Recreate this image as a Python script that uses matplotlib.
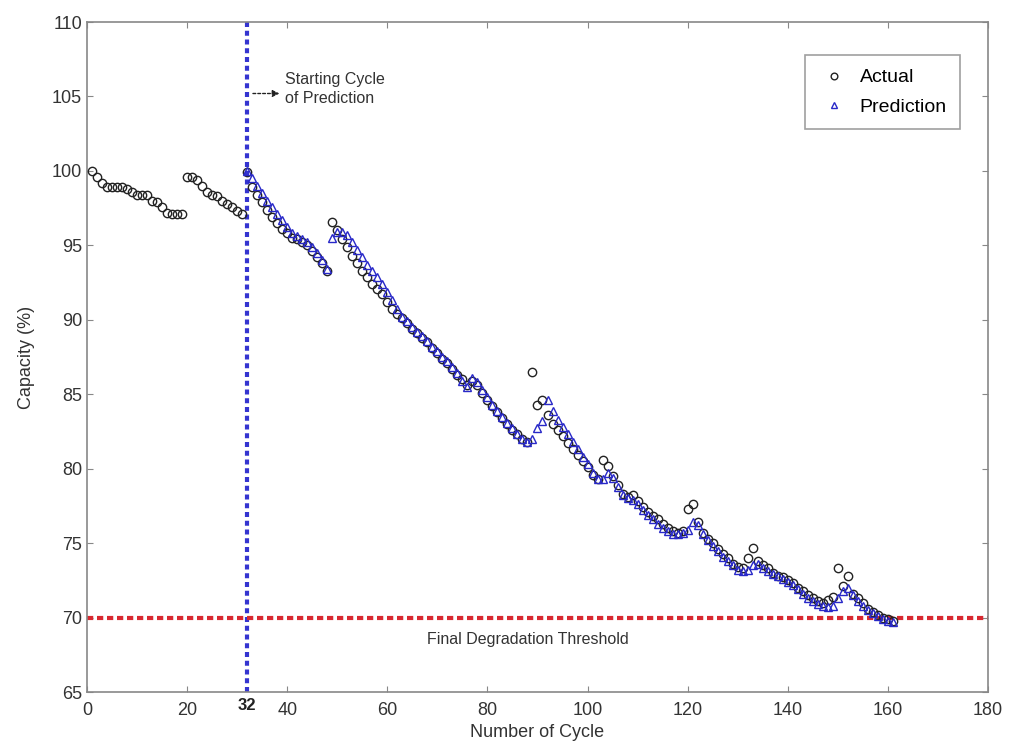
import matplotlib
matplotlib.use("Agg")
import matplotlib.pyplot as plt

plt.rcParams['font.family'] = ['Liberation Sans', 'DejaVu Sans']

# measured capacity (%), cycles 1..161
actual_cycles = list(range(1, 162))
actual = [
    100.0, 99.6, 99.2, 98.9, 98.9, 98.9, 98.9, 98.8, 98.6, 98.4,
    98.4, 98.4, 98.0, 97.9, 97.6, 97.2, 97.1, 97.1, 97.1,
    99.6, 99.6, 99.4, 99.0, 98.6, 98.4, 98.3, 98.0, 97.8, 97.6, 97.3, 97.1,
    99.9, 98.9, 98.4, 97.9, 97.4, 96.9, 96.5, 96.1, 95.8, 95.5,
    95.4, 95.2, 95.0, 94.6, 94.2, 93.8, 93.3,
    96.6, 96.0, 95.4, 94.9, 94.3, 93.8, 93.3, 92.9, 92.4, 92.1,
    91.7, 91.2, 90.7, 90.4, 90.1, 89.8, 89.4, 89.1, 88.8, 88.5,
    88.1, 87.8, 87.4, 87.1, 86.7, 86.3, 86.0, 85.6, 85.9, 85.6,
    85.1, 84.6, 84.2, 83.8, 83.4, 83.0, 82.6, 82.3, 82.0, 81.8,
    86.5, 84.3, 84.6, 83.6, 83.0, 82.6, 82.2, 81.7, 81.3, 80.9,
    80.5, 80.1, 79.6, 79.3,
    80.6, 80.2, 79.5, 78.9, 78.3, 78.1, 78.2, 77.8, 77.4, 77.1,
    76.8, 76.6, 76.3, 76.0, 75.8, 75.7, 75.8,
    77.3, 77.6, 76.4, 75.7, 75.3, 75.0, 74.6, 74.3, 74.0, 73.6,
    73.4, 73.3, 74.0,
    74.7, 73.8, 73.5, 73.3, 73.0, 72.8, 72.7, 72.5, 72.3, 72.0,
    71.8, 71.5, 71.3, 71.1, 71.0, 71.2, 71.4,
    73.3, 72.1, 72.8, 71.6, 71.3, 71.0, 70.6, 70.4, 70.2, 70.0,
    69.9, 69.8,
]

# predicted capacity (%), cycles 32..161
pred_cycles = list(range(32, 162))
prediction = [
    100.0, 99.5, 99.0, 98.5, 98.0, 97.6, 97.1, 96.7, 96.2, 95.8,
    95.6, 95.4, 95.2, 94.9, 94.5, 94.0, 93.4,
    95.5, 95.9, 95.9, 95.7, 95.2, 94.7, 94.2, 93.7, 93.3, 92.9,
    92.4, 91.9, 91.3, 90.7, 90.2, 89.9, 89.5, 89.2, 88.9, 88.6,
    88.2, 87.9, 87.5, 87.2, 86.8, 86.4, 85.9, 85.5, 86.1, 85.8,
    85.3, 84.8, 84.3, 83.9, 83.5, 83.1, 82.7, 82.3, 82.0, 81.8,
    82.0, 82.7, 83.2, 84.6, 83.9, 83.3, 82.8, 82.3, 81.8, 81.3,
    80.8, 80.3, 79.7, 79.3,
    79.3, 79.7, 79.4, 78.8, 78.2, 78.0, 77.9, 77.6, 77.2, 76.9,
    76.6, 76.3, 76.0, 75.8, 75.6, 75.6, 75.7,
    75.9, 76.4, 76.2, 75.6, 75.2, 74.8, 74.5, 74.1, 73.8, 73.5,
    73.2, 73.1, 73.2,
    73.5, 73.6, 73.3, 73.1, 72.9, 72.8, 72.6, 72.4, 72.2, 71.9,
    71.6, 71.3, 71.1, 70.9, 70.8, 70.7, 70.8,
    71.3, 71.8, 72.0, 71.5, 71.1, 70.8, 70.5, 70.3, 70.1, 69.9,
    69.8, 69.7,
]

start_cycle = 32
threshold = 70
x_ticks = [0, 20, 40, 60, 80, 100, 120, 140, 160, 180]
y_ticks = [65, 70, 75, 80, 85, 90, 95, 100, 105, 110]

fig = plt.figure(figsize=(10.15, 7.47), dpi=100)
ax = fig.add_axes([0.0857, 0.0736, 0.8877, 0.8969])

ax.plot(actual_cycles, actual, 'o', mfc='none', mec='#222222', ms=6, mew=1.0,
        label='Actual', zorder=3)
ax.plot(pred_cycles, prediction, '^', mfc='none', mec='#2828c8', ms=6, mew=1.0,
        label='Prediction', zorder=4)

ax.axvline(start_cycle, color='#3434d0', lw=3, ls=(0, (1.2, 0.9)), zorder=2)
ax.axhline(threshold, color='#d82830', lw=3, ls=(0, (1.5, 0.9)), zorder=2)

ax.set_xlim(0, 180)
ax.set_ylim(65, 110)
ax.set_xticks(x_ticks)
ax.set_yticks(y_ticks)
ax.tick_params(direction='in', length=4, colors='#888888', labelcolor='#333333',
               labelsize=13, top=True, right=True)
ax.tick_params(axis='x', pad=7)
for s in ax.spines.values():
    s.set_color('#888888')
    s.set_linewidth(1.2)

ax.text(start_cycle, 64.6, '32', ha='center', va='top', fontsize=12,
        fontweight='bold', color='#222222')

ax.set_xlabel('Number of Cycle', fontsize=13, color='#333333', labelpad=4)
ax.set_ylabel('Capacity (%)', fontsize=13, color='#333333', labelpad=12)

ax.annotate('', xy=(39.0, 105.2), xytext=(32.6, 105.2),
            arrowprops=dict(arrowstyle='-|>', color='#222222', lw=1,
                            ls=(0, (2, 1.5)), mutation_scale=10))
ax.text(39.6, 105.5, 'Starting Cycle\nof Prediction', fontsize=11.5,
        color='#333333', va='center', ha='left', linespacing=1.3)
ax.text(88, 68.5, 'Final Degradation Threshold', fontsize=11.5,
        color='#333333', ha='center', va='center')

leg = ax.legend(loc='upper right', fontsize=14, frameon=True, fancybox=False,
                edgecolor='#888888', handletextpad=0.5, borderpad=0.7,
                labelspacing=0.6, handlelength=1.6,
                bbox_to_anchor=(0.98, 0.965), markerscale=0.8)
leg.get_frame().set_linewidth(1.2)

fig.savefig('out.png', dpi=100)
